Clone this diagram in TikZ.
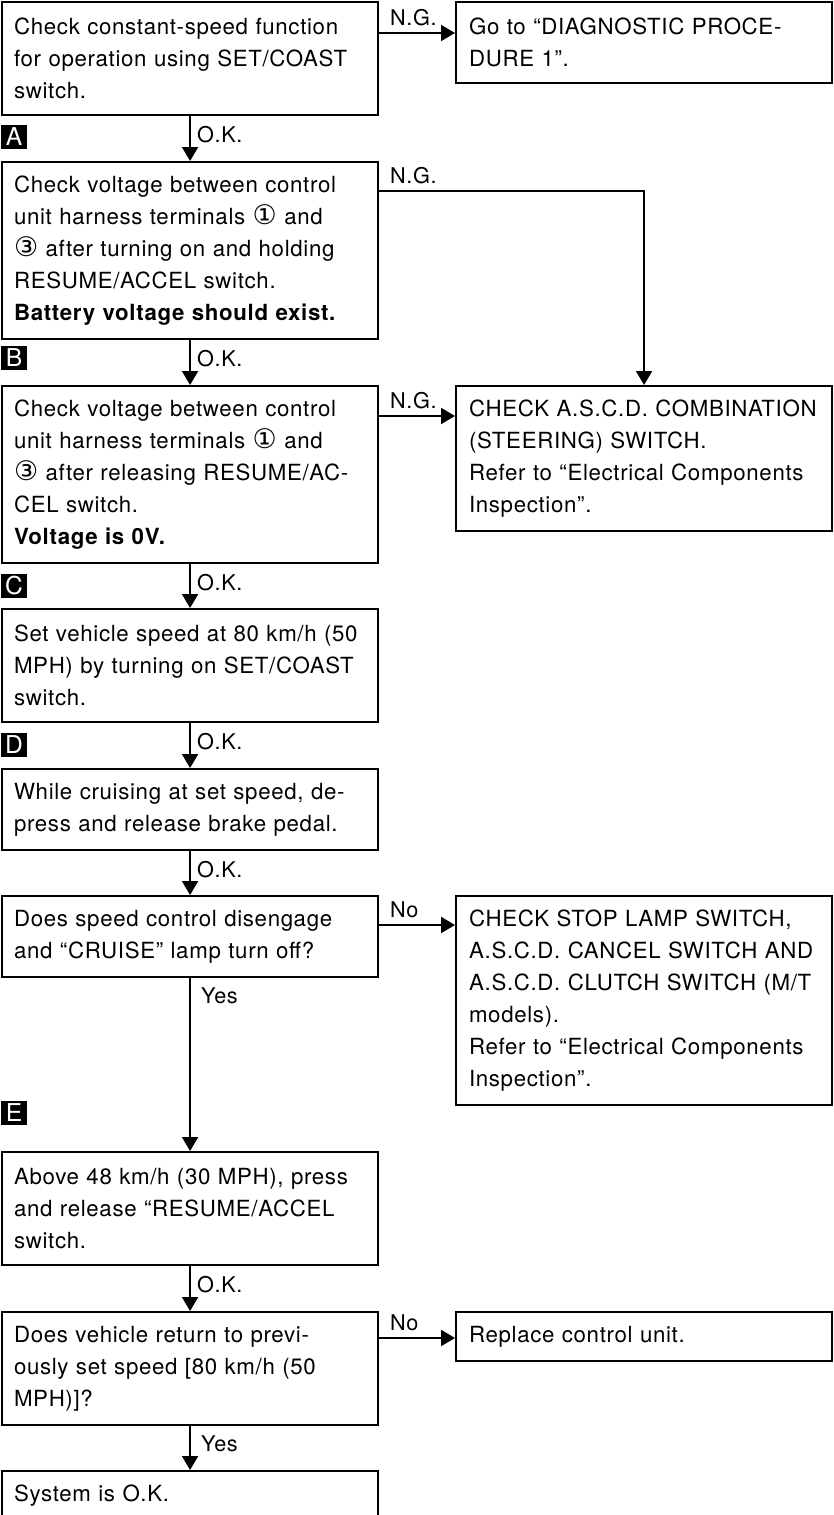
\documentclass[tikz,border=0pt]{standalone}
\usepackage{fontspec}
\setmainfont{TeX Gyre Heros}[LetterSpace=3]
\newfontfamily\circfont{DejaVu Sans}
\newcommand{\term}[1]{{\circfont\fontsize{23pt}{27.3pt}\selectfont #1}}
\usetikzlibrary{arrows.meta,calc}

\begin{document}
\begin{tikzpicture}[
  x=0.03cm, y=-0.03cm,
  font=\fontsize{19pt}{27.3pt}\selectfont,
  >={Triangle[length=0.42cm,width=0.48cm]},
  line width=1.8pt,
  chk/.style={draw,anchor=north west,align=left,inner xsep=0.2cm,inner ysep=0pt,
    text width=10.88cm,minimum height=0.96cm*#1+0.51cm,
    execute at begin node={\leftskip=0.16cm}},
  act/.style={chk=#1,execute at begin node={\leftskip=0.19cm}},
  tag/.style={fill=black,text=white,inner sep=0pt,minimum width=0.8cm,
    minimum height=0.7cm,font=\fontsize{21pt}{21pt}\selectfont},
  lab/.style={inner sep=0pt,anchor=west,font=\fontsize{18.5pt}{20pt}\selectfont},
  flow/.style={->}
]
\useasboundingbox (0,0) rectangle (833,1515);
% left column
\node[chk=3] (b1) at (1,1) {Check constant-speed function\\for operation using SET/COAST\\switch.};
\node[chk=5] (b2) at (1,161) {Check voltage between control\\unit harness terminals \term{①} and\\\term{③} after turning on and holding\\RESUME/ACCEL switch.\\\textbf{Battery voltage should exist.}};
\node[chk=5] (b3) at (1,385) {Check voltage between control\\unit harness terminals \term{①} and\\\term{③} after releasing RESUME/AC-\\CEL switch.\\\textbf{Voltage is 0V.}};
\node[chk=3] (b4) at (1,608) {Set vehicle speed at 80 km/h (50\\MPH) by turning on SET/COAST\\switch.};
\node[chk=2] (b5) at (1,768) {While cruising at set speed, de-\\press and release brake pedal.};
\node[chk=2] (b6) at (1,895) {Does speed control disengage\\and ``CRUISE'' lamp turn off?};
\node[chk=3] (b7) at (1,1151) {Above 48 km/h (30 MPH), press\\and release ``RESUME/ACCEL\\switch.};
\node[chk=3] (b8) at (1,1311) {Does vehicle return to previ-\\ously set speed [80 km/h (50\\MPH)]?};
\node[chk=1] (b9) at (1,1470) {System is O.K.};
% right column
\node[act=2] (r1) at (455,1) {Go to ``DIAGNOSTIC PROCE-\\DURE 1''.};
\node[act=4] (r2) at (455,385) {CHECK A.S.C.D. COMBINATION\\(STEERING) SWITCH.\\Refer to ``Electrical Components\\Inspection''.};
\node[act=6] (r3) at (455,895) {CHECK STOP LAMP SWITCH,\\A.S.C.D. CANCEL SWITCH AND\\A.S.C.D. CLUTCH SWITCH (M/T\\models).\\Refer to ``Electrical Components\\Inspection''.};
\node[act=1] (r4) at (455,1311) {Replace control unit.};
% step letters
\node[tag] (tA) at (14,137) {A};
\node[tag] (tB) at (14,358) {B};
\node[tag] (tC) at (14,586) {C};
\node[tag] (tD) at (14,745) {D};
\node[tag] (tE) at (14,1113) {E};
% main flow
\draw[flow] (b1) -- node[lab,pos=0,xshift=0.18cm,yshift=-0.54cm]{O.K.} (b2);
\draw[flow] (b2) -- node[lab,pos=0,xshift=0.18cm,yshift=-0.54cm]{O.K.} (b3);
\draw[flow] (b3) -- node[lab,pos=0,xshift=0.18cm,yshift=-0.54cm]{O.K.} (b4);
\draw[flow] (b4) -- node[lab,pos=0,xshift=0.18cm,yshift=-0.54cm]{O.K.} (b5);
\draw[flow] (b5) -- node[lab,pos=0,xshift=0.18cm,yshift=-0.54cm]{O.K.} (b6);
\draw[flow] (b6) -- node[lab,pos=0,xshift=0.3cm,yshift=-0.54cm]{Yes} (b7);
\draw[flow] (b7) -- node[lab,pos=0,xshift=0.18cm,yshift=-0.54cm]{O.K.} (b8);
\draw[flow] (b8) -- node[lab,pos=0,xshift=0.3cm,yshift=-0.54cm]{Yes} (b9);
% branches
\draw[flow] ($(b1.north east)+(0,32)$) coordinate (ng1) -- node[lab,pos=0,xshift=0.3cm,yshift=0.45cm]{N.G.} (ng1 -| r1.west);
\draw[flow] ($(b2.north east)+(0,30)$) coordinate (ng2) -| node[lab,pos=0,xshift=0.3cm,yshift=0.45cm]{N.G.} (r2.north);
\draw[flow] ($(b3.north east)+(0,31)$) coordinate (ng3) -- node[lab,pos=0,xshift=0.3cm,yshift=0.45cm]{N.G.} (ng3 -| r2.west);
\draw[flow] ($(b6.north east)+(0,30)$) coordinate (no1) -- node[lab,pos=0,xshift=0.3cm,yshift=0.45cm]{No} (no1 -| r3.west);
\draw[flow] ($(b8.north east)+(0,27)$) coordinate (no2) -- node[lab,pos=0,xshift=0.3cm,yshift=0.45cm]{No} (no2 -| r4.west);
\end{tikzpicture}
\end{document}
